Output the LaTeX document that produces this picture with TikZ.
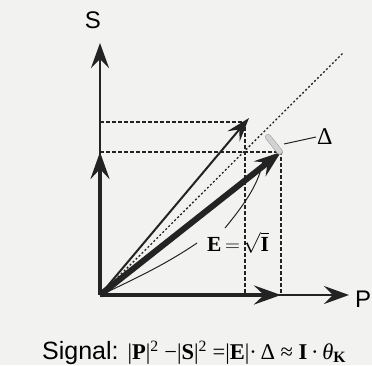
\documentclass[tikz,border=0pt]{standalone}
\usepackage{fontspec}
\usepackage{amsmath}
\setmainfont{Liberation Serif}
\newfontfamily\helv{Liberation Sans}
\newfontfamily\tms{Liberation Serif}
\usetikzlibrary{arrows.meta}
\definecolor{bgc}{RGB}{242,242,240}
\definecolor{ink}{RGB}{35,35,35}
\tikzset{
  axis/.style={draw=ink,line width=2.6pt,-{Stealth[length=25pt,width=18pt,inset=9pt]}},
  thickvec/.style={draw=ink,line width=4.4pt,-{Stealth[length=27pt,width=19pt,inset=10pt]}},
  evec/.style={draw=ink,line width=6pt,-{Stealth[length=27pt,width=19pt,inset=10pt]}},
  thinvec/.style={draw=ink,line width=2pt,-{Stealth[length=24pt,width=16pt,inset=9pt]}},
  proj/.style={draw=ink,line width=1.2pt,dash pattern=on 3.5pt off 2.5pt},
  diag/.style={draw=ink,line width=1.3pt,dash pattern=on 2pt off 2.2pt},
  bracket/.style={draw=ink,line width=1pt},
  lab/.style={font=\helv\fontsize{24}{28}\selectfont,inner sep=0pt},
  siglab/.style={font=\helv\fontsize{25}{29}\selectfont,inner sep=0pt},
  mlab/.style={font=\tms\fontsize{24}{28}\selectfont,inner sep=0pt},
  elab/.style={font=\tms\fontsize{21.5}{26}\selectfont,inner sep=0pt}
}
\begin{document}
\begin{tikzpicture}[x=1pt,y=-1pt]
\fill[bgc] (0,0) rectangle (372,365);
\useasboundingbox (0,0) rectangle (372,365);
% key points
\coordinate (O) at (100,295);
\coordinate (Stip) at (100,43);
\coordinate (Ptip) at (349,295);
\coordinate (Vtip) at (100,152);
\coordinate (Htip) at (281,295);
\coordinate (Etip) at (281,152);
\coordinate (Ttip) at (249,118);
\coordinate (Tc) at (245,122);
\coordinate (Dend) at (343,53);
\coordinate (Ha) at (100,122);
\coordinate (Hb) at (100,152);
\coordinate (Va) at (245,295);
\coordinate (Vb) at (281,295);
\coordinate (Da) at (268,137);
\coordinate (Db) at (280,152);
\coordinate (La) at (284,144);
\coordinate (Lb) at (316,137);
\coordinate (B1a) at (105,293);
\coordinate (B1b) at (197,243);
\coordinate (B2a) at (225,228);
\coordinate (B2b) at (263,161);
% projections
\draw[proj] (Ha) -- (Tc) -- (Va);
\draw[proj] (Hb) -- (Etip) -- (Vb);
% diagonal
\draw[diag] (O) -- (Dend);
% axes
\draw[axis] (O) -- (Stip);
\draw[axis] (O) -- (Ptip);
% vectors
\draw[thickvec] (O) -- (Vtip);
\draw[thickvec] (O) -- (Htip);
\draw[thinvec] (O) -- (Ttip);
\draw[evec] (O) -- (Etip);
% delta marker
\draw[line width=6pt,gray!75,line cap=round] (Da) -- (Db);
\draw[line width=5pt,gray!35,line cap=round,dash pattern=on 0.9pt off 1.6pt] (Da) -- (Db);
\draw[line width=1pt,ink] (La) -- (Lb);
% bracket curves
\draw[bracket] (B1a) .. controls (130,281) and (165,265) .. (B1b);
\draw[bracket] (B2a) .. controls (248,200) and (259,182) .. (B2b);
% labels
\node[lab] (S) at (93,20) {S};
\node[lab,anchor=west] (P) at (355,299) {P};
\node[mlab,anchor=west] (D) at (317,137) {Δ};
\node[elab,anchor=west] (E) at (207,243) {$\text{\tms\bfseries E}\,{=}\,\sqrt{\text{\tms\bfseries I}}$};
\node[siglab,anchor=base west] (sig) at (42,359) {Signal:\hspace{9pt}{\tms\fontsize{22.5}{26}\selectfont |\textbf{P}|\textsuperscript{2} −|\textbf{S}|\textsuperscript{2} =|\textbf{E}|·\,Δ ≈ \textbf{I}\,·\,\textit{θ}\textsubscript{\textbf{K}}}};
\end{tikzpicture}
\end{document}
